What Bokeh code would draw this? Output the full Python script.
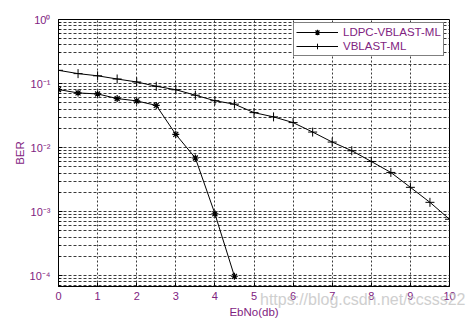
from bokeh.plotting import figure
from bokeh.models import Range1d, FixedTicker, Legend, LegendItem, Div
from bokeh.layouts import column
from bokeh.embed import file_html
from bokeh.resources import INLINE

# ---- data ----
ebno = [0, 0.5, 1, 1.5, 2, 2.5, 3, 3.5, 4, 4.5]
ber_ldpc = [0.0807, 0.0714, 0.0689, 0.0584, 0.0536, 0.0456, 0.0161, 0.00689, 0.000928, 0.0000982]

ebno_v = [0, 0.5, 1, 1.5, 2, 2.5, 3, 3.5, 4, 4.5, 5, 5.5, 6, 6.5, 7, 7.5, 8, 8.5, 9, 9.5, 10]
ber_vblast = [0.161, 0.143, 0.1322, 0.1179, 0.1059, 0.0908, 0.0801, 0.0658, 0.054, 0.0477,
              0.0352, 0.0302, 0.0246, 0.0175, 0.01222, 0.00895, 0.00608, 0.0041, 0.0024,
              0.0014, 0.000762]

labels = ["LDPC-VBLAST-ML", "VBLAST-ML"]
x_ticks = [0, 1, 2, 3, 4, 5, 6, 7, 8, 9, 10]
y_ticks = [1e-4, 1e-3, 1e-2, 1e-1, 1]
y_tick_labels = ["10\u207b\u2074", "10\u207b\u00b3", "10\u207b\u00b2", "10\u207b\u00b9", "10\u2070"]
x_label = "EbNo(db)"
y_label = "BER"
watermark = "https://blog.csdn.net/ccsss22"

FONT = "Liberation Sans"
TXT = "#7f237f"
GRID = "#3a3a3a"

minor = []
for e in range(-5, 0):
    for k in range(2, 10):
        v = k * 10.0 ** e
        if 6.8e-5 <= v <= 1:
            minor.append(v)

p = figure(width=468, height=320, x_axis_type="linear", y_axis_type="log",
           x_range=Range1d(0, 10), y_range=Range1d(6.8e-5, 1),
           output_backend="svg", toolbar_location=None,
           min_border_left=58, min_border_right=19, min_border_top=19, min_border_bottom=33)
p.background_fill_color = "white"
p.border_fill_color = "white"
p.outline_line_color = "black"
p.outline_line_width = 1
p.outline_line_alpha = 1

p.xaxis.ticker = FixedTicker(ticks=x_ticks)
p.yaxis.ticker = FixedTicker(ticks=y_ticks, minor_ticks=minor)
p.yaxis.major_label_overrides = {t: l for t, l in zip(y_ticks, y_tick_labels)}

for ax in (p.xaxis[0], p.yaxis[0]):
    ax.axis_line_color = "black"
    ax.major_tick_in = 4
    ax.major_tick_out = 0
    ax.minor_tick_in = 2
    ax.minor_tick_out = 0
    ax.major_label_text_font = FONT
    ax.major_label_text_font_size = "11px"
    ax.major_label_text_color = TXT
    ax.axis_label_text_font = FONT
    ax.axis_label_text_font_size = "11.5px"
    ax.axis_label_text_font_style = "normal"
    ax.axis_label_text_color = TXT
p.xaxis.minor_tick_line_color = None
p.xaxis.major_label_standoff = 5
p.xaxis.axis_label = x_label
p.xaxis.axis_label_standoff = 3
p.yaxis.major_label_standoff = 8
p.yaxis.axis_label = y_label
p.yaxis.axis_label_standoff = 1

p.xgrid.ticker = FixedTicker(ticks=x_ticks)
p.xgrid.grid_line_color = GRID
p.xgrid.grid_line_dash = "2 2"
p.xgrid.grid_line_width = 1
p.ygrid.ticker = FixedTicker(ticks=y_ticks, minor_ticks=minor)
p.ygrid.grid_line_color = GRID
p.ygrid.grid_line_dash = "3 2"
p.ygrid.minor_grid_line_color = GRID
p.ygrid.minor_grid_line_dash = "3 2"

l1 = p.line(ebno, ber_ldpc, line_color="black", line_width=1)
m1 = p.scatter(ebno, ber_ldpc, marker="asterisk", size=7, line_color="black", line_width=1.2)
l2 = p.line(ebno_v, ber_vblast, line_color="black", line_width=1)
m2 = p.scatter(ebno_v, ber_vblast, marker="cross", size=9, line_color="black", line_width=1)

legend = Legend(items=[LegendItem(label=labels[0], renderers=[l1, m1]),
                       LegendItem(label=labels[1], renderers=[l2, m2])],
                location=(235, 230), margin=0, padding=2, spacing=0,
                glyph_width=42, glyph_height=14, label_height=14, label_standoff=5,
                label_text_font=FONT, label_text_font_size="11.5px", label_text_color=TXT,
                border_line_color="black", border_line_width=1,
                background_fill_color="white", background_fill_alpha=1)
p.add_layout(legend, "center")

wm_html = ('<span style="font-family:\'Liberation Sans\';font-size:16px;line-height:16px;'
           'color:#c4c4c4;white-space:nowrap">' + watermark + '</span>')
wm = Div(text=wm_html, width=210, height=16,
         styles={"position": "absolute", "left": "255px", "top": "287px",
                 "opacity": "0.8", "z-index": "10"})

layout = column(p, wm, spacing=0)

open("out.html", "w").write(file_html(layout, INLINE))
